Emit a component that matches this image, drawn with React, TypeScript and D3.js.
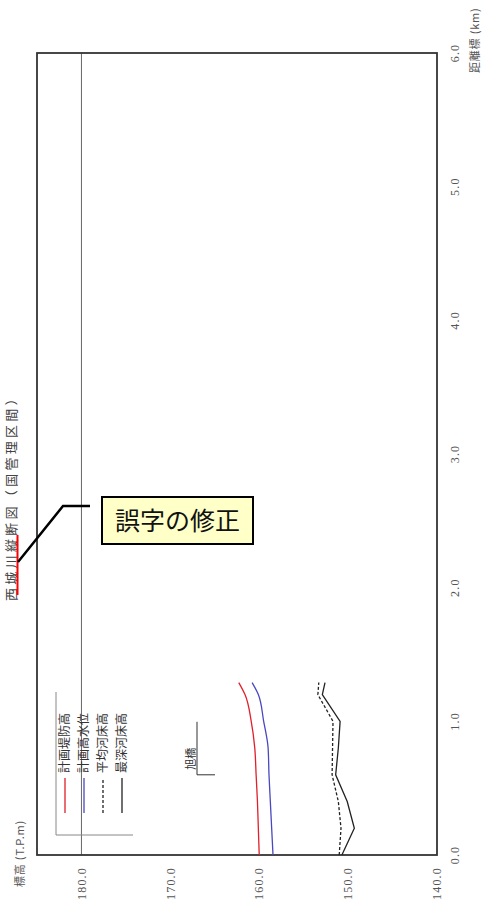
import React from "react";
import * as d3 from "d3";

// 距離標 (km) と各標高 (T.P.m)
const distances = [0, 0.2, 0.4, 0.6, 0.8, 1.0, 1.2, 1.29];
const planLevee = [160.0, 160.1, 160.2, 160.35, 160.5, 160.9, 161.6, 162.3];
const planFlood = [158.45, 158.6, 158.75, 158.9, 159.0, 159.5, 160.1, 160.8];
const avgBed = [151.0, 150.8, 151.1, 151.8, 151.75, 151.7, 153.4, 153.3];
const deepBed = [150.7, 149.3, 150.1, 151.4, 151.1, 150.9, 152.9, 152.6];

const xTicks = [0, 1, 2, 3, 4, 5, 6];
const yTicks = [140, 150, 160, 170, 180];
const legendNames = ["計画堤防高", "計画高水位", "平均河床高", "最深河床高"];
const bridgeName = "旭橋";
const bridgeKm = 0.6;

const W = 908; // landscape width (rotated into the 484x908 page)
const serif = "'Liberation Serif', 'DejaVu Serif', serif";
const gothic = "'Noto Sans CJK JP', 'Noto Sans', sans-serif";

export default function App() {
  const x = d3.scaleLinear().domain([0, 6]).range([53, 855]);
  const y = d3.scaleLinear().domain([140, 185]).range([437, 37]);

  const series = [
    { name: legendNames[0], values: planLevee, color: "#e0202a", dash: null, curve: d3.curveMonotoneX },
    { name: legendNames[1], values: planFlood, color: "#4a48c0", dash: null, curve: d3.curveMonotoneX },
    { name: legendNames[2], values: avgBed, color: "#222", dash: "3,2", curve: d3.curveLinear },
    { name: legendNames[3], values: deepBed, color: "#222", dash: null, curve: d3.curveLinear },
  ];

  const bx = x(bridgeKm);

  return (
    <svg
      width={484}
      height={908}
      style={{ position: "absolute", left: 0, top: 0, display: "block", background: "#fff" }}
    >
      <g transform={`translate(0,${W}) rotate(-90)`}>
        {/* title */}
        <text x={413} y={15.5} textAnchor="middle" fontFamily={gothic} fontSize={13} letterSpacing={3.3} fill="#444">
          西城川縦断図（国管理区間）
        </text>
        <line x1={313} x2={373} y1={17.5} y2={17.5} stroke="#ff0000" strokeWidth={2} />

        {/* axis titles */}
        <text x={21} y={24} fontFamily={gothic} fontSize={11} letterSpacing={0.8} fill="#555">
          標高 (T.P.m)
        </text>
        <text x={835} y={479} fontFamily={gothic} fontSize={11} letterSpacing={0.8} fill="#555">
          距離標 (km)
        </text>

        {/* 180 line */}
        <line x1={x(0)} x2={x(6)} y1={y(180)} y2={y(180)} stroke="#666" strokeWidth={1} />

        {/* frame */}
        <rect x={x(0)} y={y(185)} width={x(6) - x(0)} height={y(140) - y(185)} fill="none" stroke="#333" strokeWidth={1.8} />

        {/* tick labels */}
        {yTicks.map((t) => (
          <text key={t} x={41} y={y(t)} dy="0.35em" textAnchor="end" fontFamily={serif} fontSize={12} letterSpacing={1.2} fill="#555">
            {t.toFixed(1)}
          </text>
        ))}
        {xTicks.map((t) => (
          <text key={t} x={x(t)} y={455} dy="0.35em" textAnchor="middle" fontFamily={serif} fontSize={12} letterSpacing={1.2} fill="#555">
            {t.toFixed(1)}
          </text>
        ))}

        {/* legend */}
        <path d="M216,56 H73 V133" fill="none" stroke="#888" strokeWidth={1} />
        {series.map((s, i) => {
          const ly = 65 + i * 19;
          return (
            <g key={s.name}>
              <line x1={95} x2={130} y1={ly} y2={ly} stroke={s.color} strokeWidth={1.3} strokeDasharray={s.dash ?? undefined} />
              <text x={135} y={ly} dy="0.36em" fontFamily={gothic} fontSize={12} fill="#333">
                {s.name}
              </text>
            </g>
          );
        })}

        {/* bridge */}
        <path d={`M${bx + 53},197 H${bx} V215`} fill="none" stroke="#333" strokeWidth={1} />
        <text x={bx + 5} y={195} fontFamily={gothic} fontSize={11} fill="#333">
          {bridgeName}
        </text>

        {/* series */}
        {series.map((s) => {
          const line = d3
            .line<number>()
            .x((_, i) => x(distances[i]))
            .y((v) => y(v))
            .curve(s.curve);
          return (
            <path
              key={s.name}
              d={line(s.values) ?? ""}
              fill="none"
              stroke={s.color}
              strokeWidth={1.3}
              strokeDasharray={s.dash ?? undefined}
            />
          );
        })}
      </g>

      {/* correction callout */}
      <polyline points="18,562 63,506 90,506" fill="none" stroke="#000" strokeWidth={2.5} />
      <rect x={102} y={497} width={151} height={47} fill="#ffffc8" stroke="#000" strokeWidth={2} />
      <text x={177.5} y={521} dy="0.36em" textAnchor="middle" fontFamily={gothic} fontSize={25} fill="#111">
        誤字の修正
      </text>
    </svg>
  );
}
